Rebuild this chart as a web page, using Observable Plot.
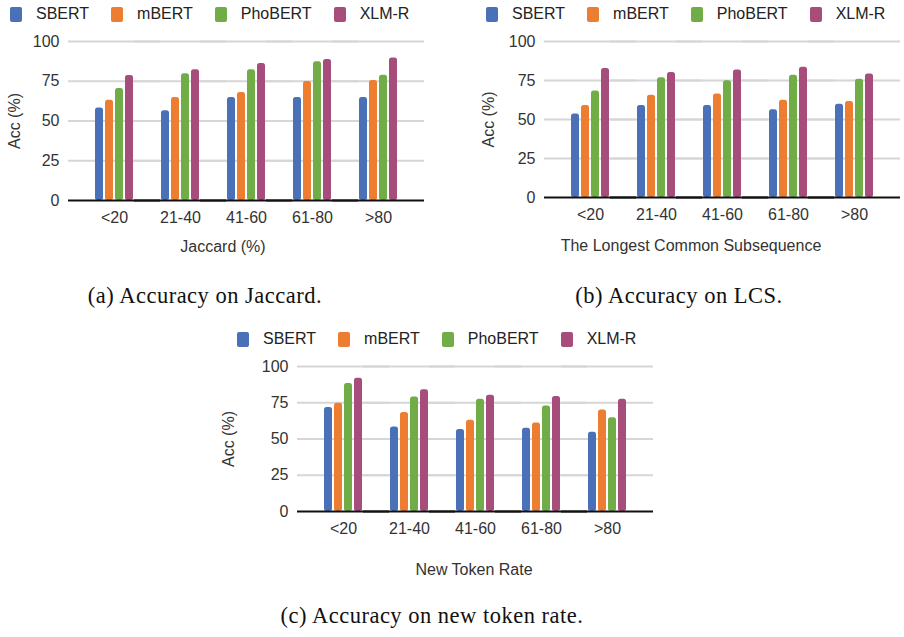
<!DOCTYPE html>
<html><head><meta charset="utf-8">
<script src="https://cdn.jsdelivr.net/npm/d3@7"></script>
<script src="https://cdn.jsdelivr.net/npm/@observablehq/plot@0.6"></script>
<style>
body{margin:0;background:#fff;}
#root{position:relative;width:904px;height:637px;overflow:hidden;font-family:"Liberation Sans",Arial,sans-serif;background:#fff;}
.panel{position:absolute;}
.legend{position:absolute;display:flex;gap:22px;font-size:16px;color:#222;line-height:16px;white-space:nowrap;}
.legend .item{display:flex;align-items:center;}
.legend .sw{width:12px;height:15px;border-radius:2px;margin-right:14px;}
.axtitle{position:absolute;font-size:16px;line-height:1;color:#333;transform:translate(-50%,-50%);white-space:nowrap;}
.caption{position:absolute;font-family:"Liberation Serif","Times New Roman",serif;font-size:22.5px;letter-spacing:0.5px;line-height:1;color:#111;transform:translateX(-50%);white-space:nowrap;}
</style></head><body><div id="root"></div>
<script>
const categories = ["<20", "21-40", "41-60", "61-80", ">80"];
const models = ["SBERT", "mBERT", "PhoBERT", "XLM-R"];
const colors = ["#4a70b8", "#ed7d31", "#70ad47", "#a64d7b"];
const yTicks = [0, 25, 50, 75, 100];

// (a) Jaccard
const jaccardSBERT   = [58.1, 56.4, 64.8, 64.8, 64.8];
const jaccardMBERT   = [63.1, 64.8, 67.9, 74.8, 75.5];
const jaccardPhoBERT = [70.4, 79.7, 82.2, 87.2, 78.8];
const jaccardXLMR    = [78.6, 82.2, 86.2, 88.7, 89.7];
// (b) LCS
const lcsSBERT   = [53.5, 58.9, 58.9, 56.3, 59.7];
const lcsMBERT   = [58.9, 65.5, 66.4, 62.3, 61.5];
const lcsPhoBERT = [68.3, 76.7, 74.9, 78.4, 75.8];
const lcsXLMR    = [82.7, 80.1, 81.8, 83.5, 79.2];
// (c) New token rate
const ntrSBERT   = [71.7, 58.3, 56.5, 57.4, 54.6];
const ntrMBERT   = [74.7, 68.2, 62.9, 61.1, 70.0];
const ntrPhoBERT = [88.2, 79.0, 77.4, 72.8, 64.7];
const ntrXLMR    = [91.9, 83.9, 80.2, 79.3, 77.4];

const root = document.getElementById("root");

function toRows(series) {
  const rows = [];
  categories.forEach((c, i) => models.forEach((m, j) => rows.push({cat: c, model: m, acc: series[j][i]})));
  return rows;
}

function chart(cfg) {
  const data = toRows(cfg.series);
  const ext = -13;
  const svg = Plot.plot({
    width: cfg.width, height: cfg.height,
    marginTop: cfg.mt, marginBottom: cfg.mb, marginLeft: cfg.ml, marginRight: cfg.mr,
    style: {fontFamily: "'Liberation Sans', Arial, sans-serif", fontSize: "16px", color: "#333", background: "transparent", overflow: "visible"},
    fx: {domain: categories, axis: "bottom", paddingInner: 0, paddingOuter: cfg.fxPad, label: null, tickSize: 0, tickPadding: 11},
    x: {domain: models, axis: null, paddingInner: 0.25, paddingOuter: 1.24},
    y: {domain: [0, 100], ticks: yTicks, tickSize: 0, tickPadding: cfg.yTickPad, label: "Acc (%)", labelArrow: "none", labelAnchor: "center", labelOffset: cfg.yLabelOffset},
    color: {domain: models, range: colors},
    marks: [
      Plot.ruleY(yTicks.filter(t => t > 0), {stroke: "#d6d6d6", strokeWidth: 2, insetLeft: ext, insetRight: ext}),
      Plot.barY(data, {fx: "cat", x: "model", y: "acc", fill: "model", rx: 2.5}),
      Plot.ruleY([0], {stroke: "#111", strokeWidth: 2, insetLeft: ext, insetRight: ext})
    ]
  });
  const wrap = document.createElement("div");
  wrap.className = "panel";
  wrap.style.left = cfg.left + "px";
  wrap.style.top = cfg.top + "px";
  wrap.appendChild(svg);
  root.appendChild(wrap);
  const t = document.createElement("div");
  t.className = "axtitle";
  t.style.left = cfg.xLabelX + "px";
  t.style.top = cfg.xLabelY + "px";
  t.textContent = cfg.xLabel;
  root.appendChild(t);
}

function legend(left, top) {
  const lg = document.createElement("div");
  lg.className = "legend";
  lg.style.left = left + "px";
  lg.style.top = top + "px";
  models.forEach((m, i) => {
    const it = document.createElement("div");
    it.className = "item";
    const sw = document.createElement("span");
    sw.className = "sw";
    sw.style.background = colors[i];
    const tx = document.createElement("span");
    tx.textContent = m;
    it.appendChild(sw); it.appendChild(tx);
    lg.appendChild(it);
  });
  root.appendChild(lg);
}

function caption(text, cx, top) {
  const d = document.createElement("div");
  d.className = "caption";
  d.style.left = cx + "px";
  d.style.top = top + "px";
  d.textContent = text;
  root.appendChild(d);
}

chart({series: [jaccardSBERT, jaccardMBERT, jaccardPhoBERT, jaccardXLMR], left: 0, top: 30, width: 450, height: 240,
  mt: 11, mb: 70, ml: 67, mr: 25, fxPad: 0.19, xLabel: "Jaccard (%)", xLabelX: 223, xLabelY: 247, yTickPad: 22, yLabelOffset: 73});
chart({series: [lcsSBERT, lcsMBERT, lcsPhoBERT, lcsXLMR], left: 454, top: 30, width: 450, height: 240,
  mt: 11, mb: 73, ml: 89, mr: 3, fxPad: 0.19, xLabel: "The Longest Common Subsequence", xLabelX: 691, xLabelY: 246, yTickPad: 22, yLabelOffset: 75});
chart({series: [ntrSBERT, ntrMBERT, ntrPhoBERT, ntrXLMR], left: 220, top: 350, width: 450, height: 250,
  mt: 16, mb: 89, ml: 77, mr: 17, fxPad: 0.19, xLabel: "New Token Rate", xLabelX: 474, xLabelY: 570, yTickPad: 22, yLabelOffset: 88});

legend(10, 6);
legend(486, 6);
legend(237, 331);

caption("(a) Accuracy on Jaccard.", 205, 285);
caption("(b) Accuracy on LCS.", 679, 285);
caption("(c) Accuracy on new token rate.", 432, 605);
</script></body></html>
